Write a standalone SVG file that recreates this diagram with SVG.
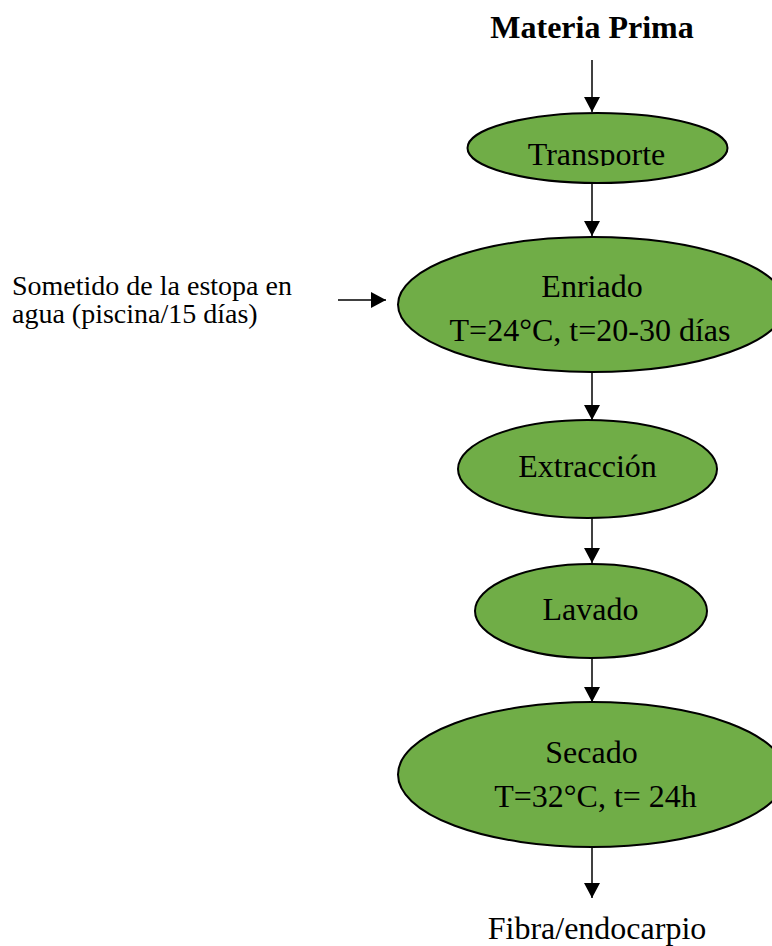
<svg xmlns="http://www.w3.org/2000/svg" width="772" height="946" viewBox="0 0 772 946">
<style>
  .node { fill: #70AD47; stroke: #000; stroke-width: 2; }
  .t { font-family: "Liberation Serif", "Times New Roman", serif; font-size: 32px; fill: #000; text-anchor: middle; }
  .b { font-weight: bold; }
  .lbl { font-family: "Liberation Serif", "Times New Roman", serif; font-size: 28px; fill: #000; }
  .edge { stroke: #000; stroke-width: 1.5; fill: none; marker-end: url(#arr); }
</style>
<defs>
  <marker id="arr" markerUnits="userSpaceOnUse" markerWidth="15" markerHeight="16" refX="15" refY="8" orient="auto">
    <path d="M0,0 L15,8 L0,16 z" fill="#000"/>
  </marker>
  <clipPath id="clipT"><rect x="400" y="100" width="372" height="66"/></clipPath>
</defs>
<rect width="772" height="946" fill="#fff"/>

<g id="materia-prima">
  <text class="t b" x="592" y="38">Materia Prima</text>
</g>

<g id="transporte">
  <ellipse class="node" cx="597.5" cy="148" rx="130" ry="35"/>
  <text class="t" x="596.5" y="165" clip-path="url(#clipT)">Transporte</text>
</g>

<g id="enriado">
  <ellipse class="node" cx="592" cy="304.5" rx="194" ry="67.5"/>
  <text class="t" x="592" y="297">Enriado</text>
  <text class="t" x="590" y="341">T=24°C, t=20-30 días</text>
</g>

<g id="sometido">
  <text class="lbl" x="12" y="295">Sometido de la estopa en</text>
  <text class="lbl" x="12" y="323">agua (piscina/15 días)</text>
</g>

<g id="extraccion">
  <ellipse class="node" cx="587.5" cy="469" rx="129.5" ry="49"/>
  <text class="t" x="587.5" y="477">Extracción</text>
</g>

<g id="lavado">
  <ellipse class="node" cx="591" cy="611" rx="116" ry="47"/>
  <text class="t" x="590.5" y="620">Lavado</text>
</g>

<g id="secado">
  <ellipse class="node" cx="592" cy="774.5" rx="194" ry="72.5"/>
  <text class="t" x="591.5" y="763">Secado</text>
  <text class="t" x="595.5" y="807">T=32°C, t= 24h</text>
</g>

<g id="fibra">
  <text class="t" x="597" y="939">Fibra/endocarpio</text>
</g>

<g id="connectors">
  <line class="edge" x1="592" y1="60" x2="592" y2="112"/>
  <line class="edge" x1="592" y1="183" x2="592" y2="236"/>
  <line class="edge" x1="338" y1="300" x2="386" y2="300"/>
  <line class="edge" x1="592" y1="372" x2="592" y2="420"/>
  <line class="edge" x1="592" y1="518" x2="592" y2="563"/>
  <line class="edge" x1="592" y1="658" x2="592" y2="702"/>
  <line class="edge" x1="592" y1="847" x2="592" y2="898"/>
</g>
</svg>
